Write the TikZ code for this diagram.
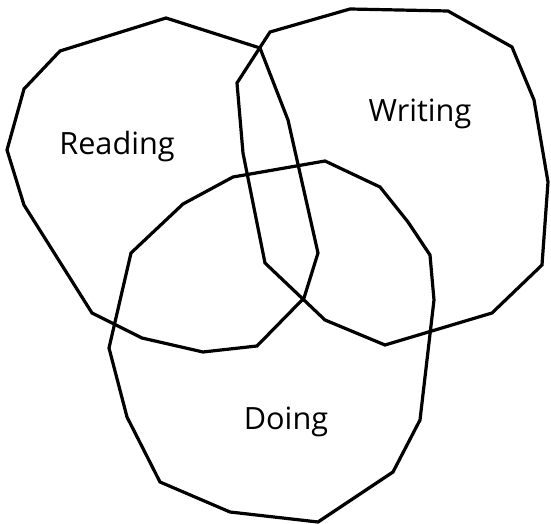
\documentclass[tikz,border=0pt]{standalone}
\usepackage{fontspec}
\setmainfont{Open Sans}
\begin{document}
\begin{tikzpicture}[x=0.75pt,y=-0.75pt,
  blob/.style={draw=black,line width=2.4pt,line join=miter},
  lbl/.style={anchor=base,inner sep=0pt,font=\fontsize{23pt}{27pt}\selectfont}]
\useasboundingbox (0,0) rectangle (551,524);
% Reading
\draw[blob] (166,18) -- (260,48) -- (288,120) -- (318,253) -- (304,298) -- (257,346) -- (203,352) -- (142,338) -- (92,313) -- (24,205) -- (7,150) -- (24,89) -- (60,51) -- cycle;
% Writing
\draw[blob] (270,32) -- (350,9) -- (448,11) -- (512,47) -- (534,100) -- (548,182) -- (542,265) -- (492,313) -- (385,345) -- (325,320) -- (265,263) -- (243,153) -- (237,83) -- cycle;
% Doing
\draw[blob] (325,161) -- (380,187) -- (408,222) -- (430,255) -- (434,300) -- (420,420) -- (393,472) -- (318,522) -- (230,512) -- (160,482) -- (127,417) -- (109,348) -- (131,253) -- (183,204) -- (233,177) -- cycle;
\node[lbl] (reading) at (117,155) {Reading};
\node[lbl] (writing) at (420,122) {Writing};
\node[lbl] (doing) at (286,430) {Doing};
\end{tikzpicture}
\end{document}
